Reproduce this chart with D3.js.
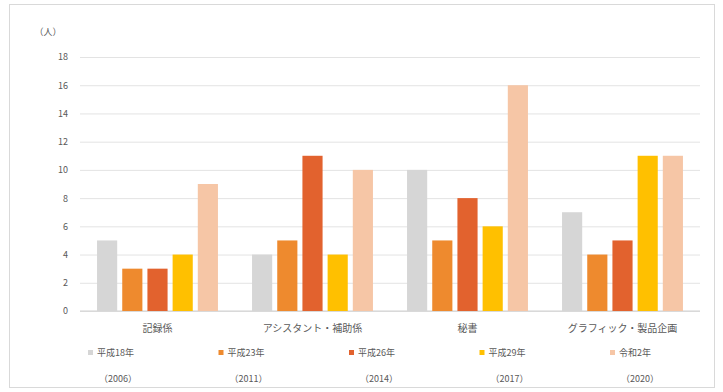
<!DOCTYPE html>
<html>
<head>
<meta charset="utf-8">
<script src="https://cdn.jsdelivr.net/npm/d3@7"></script>
<style>
  body { margin: 0; background: #fff; }
  text { font-family: "Noto Sans CJK JP", "Noto Sans", sans-serif; fill: #595959; }
</style>
</head>
<body>
<script>
var categories = ["記録係", "アシスタント・補助係", "秘書", "グラフィック・製品企画"];
var seriesNames = ["平成18年", "平成23年", "平成26年", "平成29年", "令和2年"];
var seriesYears = ["（2006）", "（2011）", "（2014）", "（2017）", "（2020）"];
var seriesColors = ["#d6d6d6", "#ee8a2e", "#e2622e", "#ffc000", "#f6c6a6"];
// values per series, one per category
var s2006 = [5, 4, 10, 7];
var s2011 = [3, 5, 5, 4];
var s2014 = [3, 11, 8, 5];
var s2017 = [4, 4, 6, 11];
var s2020 = [9, 10, 16, 11];
var yTicks = [0, 2, 4, 6, 8, 10, 12, 14, 16, 18];

var series = [s2006, s2011, s2014, s2017, s2020];

var W = 723, H = 392;
var svg = d3.select("body").append("svg").attr("width", W).attr("height", H);

svg.append("rect").attr("x", 9.5).attr("y", 4.5).attr("width", 705).attr("height", 383)
    .attr("fill", "#fff").attr("stroke", "#d9d9d9");

var x0 = d3.scaleBand().domain(categories).range([80, 700]).paddingInner(0.22).paddingOuter(0.11);
var x1 = d3.scaleBand().domain(d3.range(series.length)).range([0, x0.bandwidth()]).paddingInner(0.2);
var y = d3.scaleLinear().domain([0, 18]).range([311, 57]);

// grid
var yAxis = d3.axisLeft(y).tickValues(yTicks).tickSize(-620).tickPadding(12);
var gy = svg.append("g").attr("transform", "translate(80,0)").call(yAxis);
gy.select(".domain").remove();
gy.selectAll(".tick line").attr("stroke", "#e3e3e3");
gy.selectAll(".tick text").attr("font-size", 9).style("fill", "#595959");

svg.append("line").attr("x1", 80).attr("x2", 700).attr("y1", y(0)).attr("y2", y(0)).attr("stroke", "#d0d0d0");

// bars
var groups = svg.selectAll(".grp").data(categories).enter().append("g")
    .attr("transform", function(d) { return "translate(" + x0(d) + ",0)"; });
groups.selectAll("rect").data(function(d, i) {
    return series.map(function(s, j) { return {j: j, v: s[i]}; });
}).enter().append("rect")
    .attr("x", function(d) { return x1(d.j); })
    .attr("width", x1.bandwidth())
    .attr("y", function(d) { return y(d.v); })
    .attr("height", function(d) { return y(0) - y(d.v); })
    .attr("fill", function(d) { return seriesColors[d.j]; });

// category labels
svg.selectAll(".cat").data(categories).enter().append("text")
    .attr("x", function(d) { return x0(d) + x0.bandwidth() / 2; })
    .attr("y", 332).attr("text-anchor", "middle").attr("font-size", 10)
    .text(function(d) { return d; });

// unit label
svg.append("text").attr("x", 48).attr("y", 35).attr("text-anchor", "middle").attr("font-size", 9).text("（人）");

// legend
var lx = d3.scalePoint().domain(d3.range(5)).range([118, 640]);
var lg = svg.selectAll(".leg").data(seriesNames).enter().append("g")
    .attr("transform", function(d, i) { return "translate(" + lx(i) + ",0)"; });
lg.append("rect").attr("x", -30).attr("y", 350).attr("width", 5).attr("height", 5)
    .attr("fill", function(d, i) { return seriesColors[i]; });
lg.append("text").attr("x", -21).attr("y", 356).attr("font-size", 9).text(function(d) { return d; });
lg.append("text").attr("x", 0).attr("y", 382).attr("text-anchor", "middle").attr("font-size", 9)
    .text(function(d, i) { return seriesYears[i]; });
</script>
</body>
</html>
